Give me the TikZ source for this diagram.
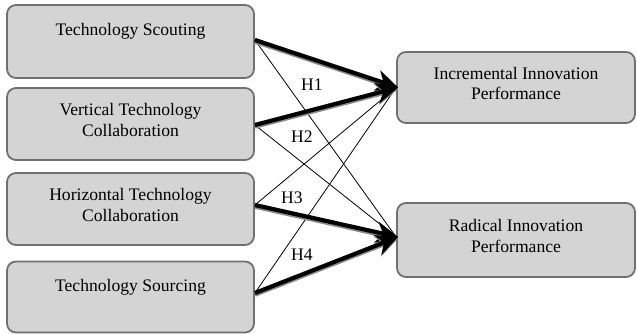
\documentclass[tikz,border=0pt]{standalone}
\usepackage{fontspec}
\setmainfont{Liberation Serif}
\usepackage{xcolor}
\usetikzlibrary{arrows.meta}
\definecolor{boxfill}{HTML}{D4D4D4}
\definecolor{boxline}{HTML}{707070}
\definecolor{halo}{HTML}{8C8C8C}

\begin{document}
\begin{tikzpicture}[x=1pt,y=-1pt,
    factor/.style={rectangle,rounded corners=9pt,draw=boxline,fill=boxfill,line width=1.8pt,
        align=center,inner sep=0pt,font=\fontsize{17.6}{20.5}\selectfont},
    strong/.style={line width=4.2pt,-{Stealth[length=22pt,width=21pt,inset=7pt]},
        preaction={draw=halo,line width=4.8pt,transform canvas={yshift=-1.4pt}}},
    weak/.style={line width=0.8pt},
    hyp/.style={font=\fontsize{17.6}{20.5}\selectfont}]
    \useasboundingbox (0,0) rectangle (637,334);
    % left column
    \node[factor,minimum width=247pt,minimum height=73pt] (ts) at (130.5,41.5) {Technology Scouting\\[-3pt]\strut};
    \node[factor,minimum width=247pt,minimum height=72pt] (vtc) at (130.5,124) {Vertical Technology\\Collaboration\\[-12pt]};
    \node[factor,minimum width=247pt,minimum height=72pt] (htc) at (130.5,209) {Horizontal Technology\\Collaboration\\[-12pt]};
    \node[factor,minimum width=247pt,minimum height=71pt] (tsr) at (130.5,297) {Technology Sourcing\\[-3pt]\strut};
    % right column
    \node[factor,minimum width=238pt,minimum height=71pt] (inc) at (516,87.5) {Incremental Innovation\\Performance\\[-12pt]};
    \node[factor,minimum width=238pt,minimum height=74pt] (rad) at (516,240) {Radical Innovation\\Performance\\[-12pt]};
    % thin paths
    \draw[weak] ([yshift=1.5pt]ts.east) -- ([yshift=3pt]rad.west);
    \draw[weak] ([yshift=-1pt]vtc.east) -- ([yshift=3pt]rad.west);
    \draw[weak] ([yshift=4pt]htc.east) -- ([yshift=0pt]inc.west);
    \draw[weak] ([yshift=4pt]tsr.east) -- ([yshift=0pt]inc.west);
    % strong paths
    \draw[strong] ([yshift=1.5pt]ts.east) -- ([xshift=2pt]inc.west);
    \draw[strong] ([yshift=-1pt]vtc.east) -- ([xshift=2pt]inc.west);
    \draw[strong] ([yshift=4pt]htc.east) -- ([xshift=2pt,yshift=3pt]rad.west);
    \draw[strong] ([yshift=4pt]tsr.east) -- ([xshift=2pt,yshift=3pt]rad.west);
    % hypothesis labels
    \node[hyp] (h1) at (312,85) {H1};
    \node[hyp] (h2) at (302,137) {H2};
    \node[hyp] (h3) at (292,198) {H3};
    \node[hyp] (h4) at (302,255) {H4};
\end{tikzpicture}
\end{document}
